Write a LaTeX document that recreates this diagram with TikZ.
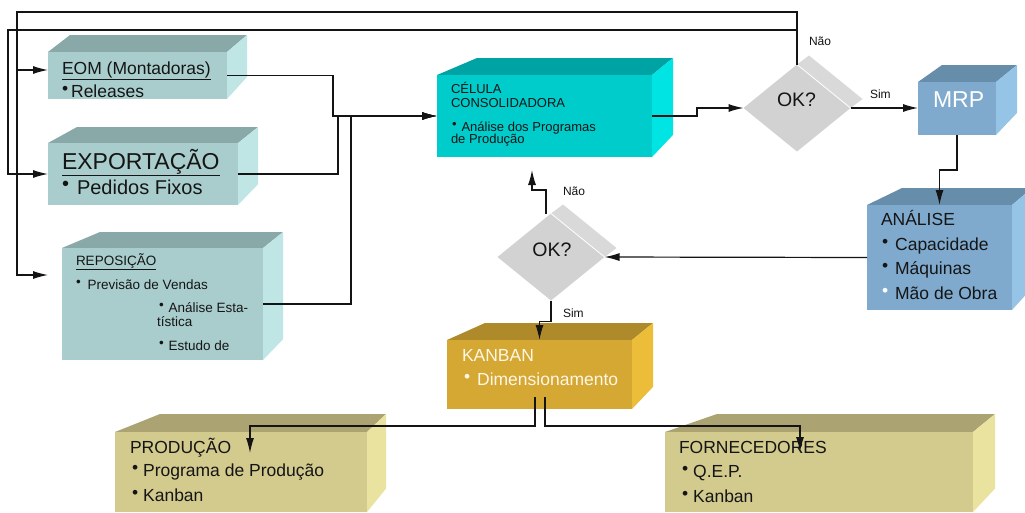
\documentclass[tikz,border=0pt]{standalone}
\usepackage{fontspec}
\setmainfont{Liberation Sans}
\usetikzlibrary{arrows.meta,shapes.geometric,calc}
\definecolor{seaF}{HTML}{A9CDCD}
\definecolor{seaT}{HTML}{89A9A9}
\definecolor{seaS}{HTML}{BFE5E5}
\definecolor{cynF}{HTML}{00CCCC}
\definecolor{cynT}{HTML}{00A3A3}
\definecolor{cynS}{HTML}{00E4E4}
\definecolor{bluF}{HTML}{7FAACD}
\definecolor{bluT}{HTML}{668DAA}
\definecolor{bluS}{HTML}{96C4E6}
\definecolor{gldF}{HTML}{D4A833}
\definecolor{gldT}{HTML}{AF8A2A}
\definecolor{gldS}{HTML}{EBBD39}
\definecolor{khaF}{HTML}{D3CB8D}
\definecolor{khaT}{HTML}{ABA472}
\definecolor{khaS}{HTML}{EAE3A0}
\definecolor{diaF}{HTML}{D2D2D2}
\definecolor{diaS}{HTML}{D9D9D9}
\definecolor{ink}{HTML}{151515}
\definecolor{kanw}{HTML}{FFF6E6}
\newcommand\mybul{\raisebox{.3ex}{•}}
\newcommand\cuboid[9]{%
  \fill[#9T] (#6,#8) -- (#7,#8) -- (#4,#3) -- (#2,#3) -- cycle;
  \fill[#9S] (#4,#3) -- (#7,#8) -- (#7,{#5-1.3*(#3-#8)}) -- (#4,#5) -- cycle;
  \node[fill=#9F, inner sep=0, outer sep=0, minimum width={(#4-#2)*1pt}, minimum height={(#5-#3)*1pt}] (#1) at ({(#2+#4)/2},{(#3+#5)/2}) {};
}
\tikzset{
  t/.style={inner sep=0, outer sep=0, anchor=base west, text=ink},
  fsz/.style={font=\fontsize{#1}{#1}\selectfont},
  conn/.style={line width=1.2pt, draw=black!92},
  arr/.style={conn, -{Latex[length=15pt,width=8pt]}},
  okdia/.style={diamond, fill=diaF, minimum width=107, minimum height=87, inner sep=0, outer sep=0},
}
\begin{document}
\begin{tikzpicture}[x=1pt,y=-1pt]
\useasboundingbox (0,0) rectangle (1025,512);
\clip (0,0) rectangle (1025,512);
\fill[white] (0,0) rectangle (1025,512);

% boxes
\cuboid{eom}{48}{52}{227}{99}{70}{247}{35}{sea}
\cuboid{exp}{48}{143}{238}{205}{77}{258}{127}{sea}
\cuboid{rep}{62}{248}{263}{360}{100}{283}{232}{sea}
\cuboid{cel}{437}{75}{652}{157}{477}{673}{58}{cyn}
\cuboid{mrp}{918}{82}{996}{135}{942}{1017}{65}{blu}
\cuboid{ana}{867}{205}{1012}{310}{902}{1032}{188}{blu}
\cuboid{kan}{447}{340}{632}{409}{485}{653}{323}{gld}
\cuboid{prod}{115}{432}{367}{512}{160}{386}{414}{kha}
\cuboid{forn}{665}{432}{973}{512}{717}{995}{414}{kha}

% diamonds
\node[okdia] (d1) at (797,108) {};
\fill[diaS] (d1.north) -- ++(12,-9) -- ([shift={(12,-9)}]d1.east) -- (d1.east) -- cycle;
\draw[white, line width=0.8pt] (d1.north) -- (d1.east);
\node[okdia] (d2) at (551,257) {};
\fill[diaS] (d2.north) -- ++(12,-9) -- ([shift={(12,-9)}]d2.east) -- (d2.east) -- cycle;
\draw[white, line width=0.8pt] (d2.north) -- (d2.east);

% free ends
\coordinate (eomin) at (48,70);
\coordinate (repin) at (48,275);
\coordinate (celin) at (532,170);
\coordinate (prodin) at (250,453);
\coordinate (fornin) at (800,452);

% texts
\node[t, fsz=17.5] (eomt) at (62,74) {\underline{EOM (Montadoras)}};
\node[t, fsz=17.5] (eomb) at (62,97) {\mybul\hspace{3pt}Releases};
\node[t, fsz=23] (expt) at (62,169) {\underline{EXPORTAÇÃO}};
\node[t, fsz=20] (expb) at (62,194) {\mybul\hspace{8pt}Pedidos Fixos};
\node[t, fsz=13.5] (rept) at (76,265) {\underline{REPOSIÇÃO}};
\node[t, fsz=13.5] (repb1) at (76,289) {\mybul\hspace{7pt}Previsão de Vendas};
\node[t, fsz=13.5] (repb2) at (159,312) {\mybul\hspace{5pt}Análise Esta-};
\node[t, fsz=13.5] (repb3) at (157,326) {tística};
\node[t, fsz=13.5] (repb4) at (159,350) {\mybul\hspace{5pt}Estudo de};
\node[t, fsz=13] (celt1) at (451,93) {CÉLULA};
\node[t, fsz=13] (celt2) at (451,107) {CONSOLIDADORA};
\node[t, fsz=13] (celb1) at (452,131) {\mybul\hspace{5pt}Análise dos Programas};
\node[t, fsz=13] (celb2) at (451,143) {de Produção};
\node[t, fsz=23, text=white] (mrpt) at (933,107) {MRP};
\node[t, fsz=17.5] (anat) at (881,225) {ANÁLISE};
\node[t, fsz=17.5] (anab1) at (882,250) {\mybul\hspace{7pt}Capacidade};
\node[t, fsz=17.5] (anab2) at (882,274) {\mybul\hspace{7pt}Máquinas};
\node[t, fsz=17.5] (anab3) at (882,299) {\textcolor{white}{\mybul}\hspace{7pt}Mão de Obra};
\node[t, fsz=17.5, text=kanw] (kant) at (462,361) {KANBAN};
\node[t, fsz=17.5, text=kanw] (kanb) at (464,385) {\mybul\hspace{7pt}Dimensionamento};
\node[t, fsz=17.5] (prodt) at (130,453) {PRODUÇÃO};
\node[t, fsz=17.5] (prodb1) at (132,476) {\mybul\hspace{5pt}Programa de Produção};
\node[t, fsz=17.5] (prodb2) at (132,501) {\mybul\hspace{5pt}Kanban};
\node[t, fsz=17.5] (fornt) at (679,453) {FORNECEDORES};
\node[t, fsz=17.5] (fornb1) at (682,477) {\mybul\hspace{5pt}Q.E.P.};
\node[t, fsz=17.5] (fornb2) at (682,502) {\mybul\hspace{5pt}Kanban};
\node[t, fsz=19.5, anchor=base] (ok1) at (796.5,106) {OK?};
\node[t, fsz=19.5, anchor=base] (ok2) at (552,256) {OK?};
\node[t, fsz=12] (nao1) at (809,45) {Não};
\node[t, fsz=12] (sim1) at (870,98) {Sim};
\node[t, fsz=12] (nao2) at (563,195) {Não};
\node[t, fsz=12] (sim2) at (563,317) {Sim};

% connectors
\draw[arr] (eom.east) -| (333,116) -- (cel.west);
\draw[arr] (exp.east) -| (338,116) -- (cel.west);
\draw[arr] (rep.east) -| (351,116) -- (cel.west);
\draw[arr] (cel.east) -- (697,116) |- (d1.west);
\draw[arr] (d1.east) -- (d1.east -| mrp.west);
\draw[arr] (d1.north) |- (17,12) |- (eomin);
\draw[arr] (d1.north) |- (17,12) |- (repin);
\draw[arr] (d1.north) |- (8,30) |- (exp.west);
\draw[arr] (mrp.south) -- ++(0,35) -| (ana.north);
\draw[arr] (ana.west) -- (d2.east);
\draw[arr] ([xshift=-5]d2.north) |- (532,190) -- (celin);
\draw[arr] (d2.south) -- ++(0,21) -| (kan.north);
\draw[arr] ([shift={(-4.5,-12)}]kan.south) -- ++(0,29) -| (prodin);
\draw[arr] ([shift={(5.5,-12)}]kan.south) -- ++(0,29) -| (fornin);
\end{tikzpicture}
\end{document}
